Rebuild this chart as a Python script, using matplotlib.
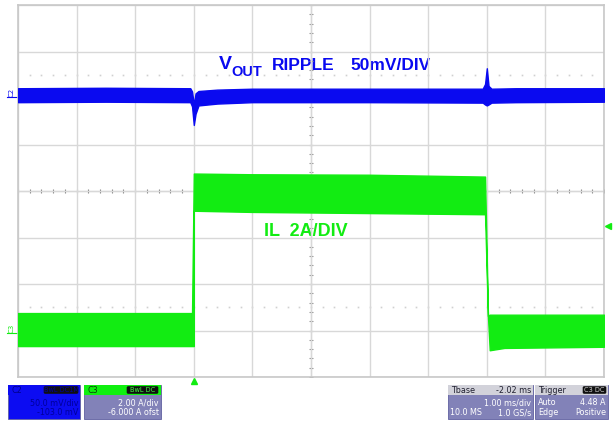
import numpy as np
import matplotlib
matplotlib.use("Agg")
import matplotlib.pyplot as plt
from matplotlib.patches import Rectangle, FancyBboxPatch
import matplotlib.transforms as mtransforms

# ---------------- data ----------------
# time in ms, trigger at 0; 1 ms/div, 10 divisions
t_min, t_max = -3.0, 7.0
# IL (C3), 2 A/div, offset -6 A  -> screen centre = 6 A
il_center, il_per_div = 6.0, 2.0
# VOUT ripple (C2), 50 mV/div, trace zero sits 2.06 div above centre
v_per_div, v_zero_div = 50.0, 2.06

il_t     = [-3.00, -0.03, -0.03, 0.00, 0.00, 0.02, 1.00, 3.00, 4.97, 4.97, 5.02, 5.05, 5.30, 7.00]
il_upper = [0.75, 0.75, 0.75, 6.72, 6.75, 6.75, 6.72, 6.70, 6.62, 6.62, 0.62, 0.68, 0.68, 0.68]
il_lower = [-0.67, -0.67, -0.67, -0.67, 5.15, 5.15, 5.10, 5.05, 5.00, 5.00, 0.60, -0.85, -0.75, -0.70]

vo_t     = [-3.00, -1.50, -0.06, -0.03, 0.00, 0.03, 0.08, 0.40, 1.00, 3.00, 4.93, 4.97, 5.00, 5.03, 5.08, 5.50, 7.00]
vo_upper = [7.5, 8.0, 7.5, 4.0, -10.0, 2.0, 4.5, 6.0, 7.0, 7.0, 7.0, 12.0, 29.0, 10.0, 7.0, 7.5, 7.5]
vo_lower = [-7.5, -7.0, -7.5, -12.0, -32.0, -20.0, -11.0, -9.0, -7.5, -7.5, -8.0, -10.0, -11.0, -10.0, -8.0, -7.5, -7.0]

trig_time, trig_level = 0.0, 4.48

blue = "#0a0af0"
green = "#12ec12"
lav = "#8282b8"

# ---------------- figure ----------------
W, H = 613, 424
fig = plt.figure(figsize=(W / 100, H / 100), dpi=100)
fig.patch.set_facecolor("white")

# overlay axes in pixel coordinates for decorations
ov = fig.add_axes([0, 0, 1, 1], zorder=0)
ov.set_xlim(0, W)
ov.set_ylim(H, 0)
ov.axis("off")

L, R, T, B = 18, 604, 5, 377
ax = fig.add_axes([L / W, (H - B) / H, (R - L) / W, (B - T) / H], zorder=2)
ax.patch.set_alpha(0)
ax.set_xlim(t_min, t_max)
ax.set_ylim(il_center - 4 * il_per_div, il_center + 4 * il_per_div)
ax.set_xticks(np.arange(t_min, t_max + 0.01, 1.0))
ax.set_yticks(np.arange(il_center - 4 * il_per_div, il_center + 4 * il_per_div + 0.01, il_per_div))
ax.grid(True, color="#d8d8d8", linewidth=1.0, zorder=0)
ax.tick_params(length=0, labelbottom=False, labelleft=False)
for s in ax.spines.values():
    s.set_color("#c8c8c8")
    s.set_linewidth(1.2)

# centre axes with minor ticks
tc = (t_min + t_max) / 2
ax.axhline(il_center, color="#9a9a9a", lw=0.8, zorder=1)
ax.axvline(tc, color="#a0a0a0", lw=0.8, zorder=1)
ax.plot(np.arange(t_min, t_max + 0.01, 0.2), np.full(51, il_center), ls="none",
        marker="|", ms=3.5, color="#8a8a8a", mew=0.8, zorder=1)
ax.plot(np.full(41, tc), np.arange(il_center - 8, il_center + 8.01, 0.4), ls="none",
        marker="_", ms=3.5, color="#9a9a9a", mew=0.8, zorder=1)
for yy in (il_center + 2.5 * il_per_div, il_center - 2.5 * il_per_div):
    ax.plot(np.arange(t_min + 0.2, t_max, 0.2), np.full(49, yy), ls="none",
            marker="s", ms=1.2, color="#d0d0d0", mew=0, zorder=1)

# IL trace
ax.fill_between(il_t, il_lower, il_upper, color=green, lw=1.0, edgecolor=green, zorder=3)

# VOUT trace on its own scale
ax2 = ax.twinx()
ax2.set_ylim((-4 - v_zero_div) * v_per_div, (4 - v_zero_div) * v_per_div)
ax2.axis("off")
ax2.fill_between(vo_t, vo_lower, vo_upper, color=blue, lw=1.0, edgecolor=blue, zorder=3)

# trigger markers
bx = mtransforms.blended_transform_factory(ax.transData, ax.transAxes)
ax.plot(trig_time, -0.012, marker="^", ms=4, color=green, transform=bx, clip_on=False)
by = mtransforms.blended_transform_factory(ax.transAxes, ax.transData)
ax.plot(1.006, trig_level, marker="<", ms=4, color=green, transform=by, clip_on=False)

# channel markers on the left
yb = ax2.transData.transform((0, 0))[1]
yg = ax.transData.transform((0, 0))[1]
for ypix, lab, col in ((H - yb, "C2", blue), (H - yg, "C3", green)):
    ov.plot([7, 17], [ypix + 2, ypix + 2], color=col, lw=0.8)
    ov.text(12, ypix - 2.5, lab, color=col, fontsize=5, rotation=90, ha="center", va="center")

# annotation texts
fb = dict(family="Liberation Sans", weight="bold")
ov.text(219, 69, "V", color=blue, fontsize=14, **fb)
ov.text(231, 75.5, "OUT", color=blue, fontsize=10.5, **fb)
ov.text(272, 70, "RIPPLE", color=blue, fontsize=12.5, **fb)
ov.text(350, 70, "50mV/DIV", color=blue, fontsize=12.5, **fb)
ov.text(264, 236, "IL  2A/DIV", color=green, fontsize=13, zorder=5,
        bbox=dict(facecolor="white", edgecolor="none", pad=4), **fb)

# ---------------- bottom info boxes ----------------
fs = 5.8
def box(x0, x1, head_col, body_col):
    ov.add_patch(Rectangle((x0, 385), x1 - x0, 34, facecolor=body_col, edgecolor="#6060a0", lw=0.6))
    ov.add_patch(Rectangle((x0, 385), x1 - x0, 10, facecolor=head_col, edgecolor="none"))

def tag(x0, x1, txt, col):
    ov.add_patch(FancyBboxPatch((x0, 386.5), x1 - x0, 7, boxstyle="round,pad=0.3,rounding_size=1.5",
                                facecolor="#101010", edgecolor="none"))
    ov.text((x0 + x1) / 2, 390.3, txt, color=col, fontsize=4.8, ha="center", va="center")

# C2 box
box(8, 80, "#0c0cf2", "#0c0cf2")
ov.text(11, 390.3, "C2", color="#00008a", fontsize=fs, va="center")
tag(44, 78, "BwL DC1M", "#0000a0")
ov.text(78, 405, "50.0 mV/div", color="#00009a", fontsize=fs, ha="right")
ov.text(78, 415, "-103.0 mV", color="#00009a", fontsize=fs, ha="right")

# C3 box
box(84, 161, "#10f010", lav)
ov.text(87, 390.3, "C3", color="#0a3a0a", fontsize=fs, va="center")
tag(127, 158, "BwL DC", "#40ff40")
ov.text(159, 405, "2.00 A/div", color="white", fontsize=fs, ha="right")
ov.text(159, 415, "-6.000 A ofst", color="white", fontsize=fs, ha="right")

# Tbase box
box(448, 533, "#d2d2da", lav)
ov.text(451, 390.3, "Tbase", color="#202030", fontsize=fs, va="center")
ov.text(531, 390.3, "-2.02 ms", color="#202030", fontsize=fs, va="center", ha="right")
ov.text(531, 405, "1.00 ms/div", color="white", fontsize=fs, ha="right")
ov.text(450, 415, "10.0 MS", color="white", fontsize=fs)
ov.text(531, 415, "1.0 GS/s", color="white", fontsize=fs, ha="right")

# Trigger box
box(535, 608, "#d2d2da", lav)
ov.text(538, 390.3, "Trigger", color="#202030", fontsize=fs, va="center")
tag(583, 606, "C3 DC", "#d0d0d0")
ov.text(538, 405, "Auto", color="white", fontsize=fs)
ov.text(606, 405, "4.48 A", color="white", fontsize=fs, ha="right")
ov.text(538, 415, "Edge", color="white", fontsize=fs)
ov.text(606, 415, "Positive", color="white", fontsize=fs, ha="right")

fig.savefig("out.png", dpi=100)
